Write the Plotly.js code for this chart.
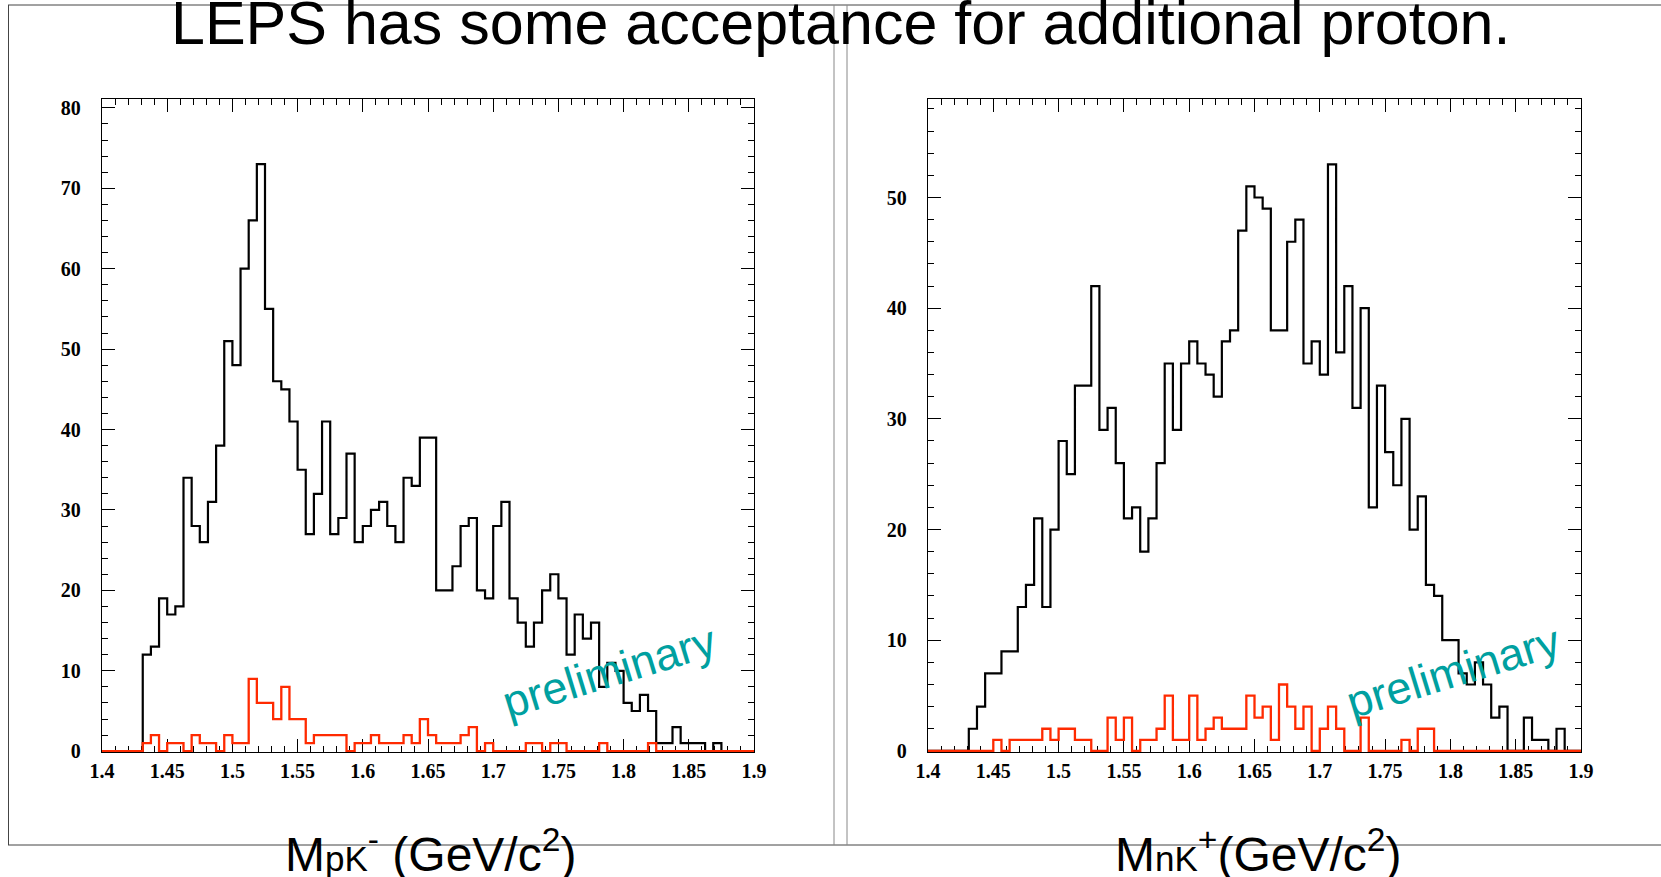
<!DOCTYPE html>
<html>
<head>
<meta charset="utf-8">
<script src="https://cdn.plot.ly/plotly-3.0.1.min.js"></script>
<style>
  html, body { margin: 0; padding: 0; background: #ffffff; }
  #chart { width: 1661px; height: 877px; }
</style>
</head>
<body>
<div id="chart"></div>
<script>
// Histogram binning shared by both panels: 80 bins from 1.4 to 1.9 GeV/c^2
const binLow = 1.4;
const binWidth = 0.00625;

// M(pK-) spectrum: all events (black) and events with an additional proton (red)
const pkAll = [
  0, 0, 0, 0, 0, 12, 13, 19, 17, 18, 34, 28, 26, 31, 38, 51, 48, 60, 66, 73,
  55, 46, 45, 41, 35, 27, 32, 41, 27, 29, 37, 26, 28, 30, 31, 28, 26, 34, 33, 39,
  39, 20, 20, 23, 28, 29, 20, 19, 28, 31, 19, 16, 13, 16, 20, 22, 19, 12, 17, 14,
  16, 8, 11, 10, 6, 5, 7, 5, 1, 1, 3, 1, 1, 1, 0, 1, 0, 0, 0, 0
];
const pkProton = [
  0, 0, 0, 0, 0, 1, 2, 0, 1, 1, 0, 2, 1, 1, 0, 2, 1, 1, 9, 6,
  6, 4, 8, 4, 4, 1, 2, 2, 2, 2, 0, 1, 1, 2, 1, 1, 1, 2, 1, 4,
  2, 1, 1, 1, 2, 3, 0, 1, 0, 0, 0, 0, 1, 1, 0, 1, 1, 0, 0, 0,
  0, 1, 0, 0, 0, 0, 0, 1, 0, 0, 0, 0, 0, 0, 0, 0, 0, 0, 0, 0
];

// M(nK+) spectrum: all events (black) and events with an additional proton (red)
const nkAll = [
  0, 0, 0, 0, 0, 2, 4, 7, 7, 9, 9, 13, 15, 21, 13, 20, 28, 25, 33, 33,
  42, 29, 31, 26, 21, 22, 18, 21, 26, 35, 29, 35, 37, 35, 34, 32, 37, 38, 47, 51,
  50, 49, 38, 38, 46, 48, 35, 37, 34, 53, 36, 42, 31, 40, 22, 33, 27, 24, 30, 20,
  23, 15, 14, 10, 10, 7, 6, 8, 6, 3, 4, 0, 0, 3, 1, 1, 0, 2, 0, 0
];
const nkProton = [
  0, 0, 0, 0, 0, 0, 0, 0, 1, 0, 1, 1, 1, 1, 2, 1, 2, 2, 1, 1,
  0, 0, 3, 1, 3, 0, 1, 1, 2, 5, 1, 1, 5, 1, 2, 3, 2, 2, 2, 5,
  3, 4, 1, 6, 4, 2, 4, 0, 2, 4, 2, 0, 0, 3, 0, 0, 0, 0, 1, 0,
  2, 2, 0, 0, 0, 0, 0, 0, 0, 0, 0, 0, 0, 0, 0, 0, 0, 0, 0, 0
];

// Axis ranges
const xRange = [1.4, 1.9];
const pkYRange = [-0.1, 81.1];
const nkYRange = [-0.1, 58.9];

const W = 1661, H = 877;
const px = v => v / W;           // pixel -> paper x
const py = v => 1 - v / H;       // pixel -> paper y

// Convert bin contents into step-outline coordinates (edges + repeated last value)
function stepTrace(counts, color, width, xa, ya) {
  const xs = [], ys = [];
  for (let i = 0; i <= counts.length; i++) {
    xs.push(+(binLow + i * binWidth).toFixed(6));
    ys.push(i < counts.length ? counts[i] : counts[counts.length - 1]);
  }
  return {
    type: 'scatter', mode: 'lines', x: xs, y: ys,
    xaxis: xa, yaxis: ya,
    line: { shape: 'hv', color: color, width: width },
    hoverinfo: 'skip', showlegend: false
  };
}

const black = '#000000';
const red = '#ff2a00';

const data = [
  stepTrace(pkAll, black, 2.2, 'x', 'y'),
  stepTrace(pkProton, red, 2.3, 'x', 'y'),
  stepTrace(nkAll, black, 2.2, 'x2', 'y2'),
  stepTrace(nkProton, red, 2.3, 'x2', 'y2')
];

const tickFont = { family: 'Liberation Serif, Times New Roman, serif', size: 20, color: '#000', weight: 'bold' };

function xAxis(domain, yName) {
  return {
    domain: domain, range: xRange, anchor: yName,
    tick0: 1.4, dtick: 0.05, ticks: 'inside', ticklen: 13, tickwidth: 1, tickcolor: '#000',
    minor: { dtick: 0.01, ticks: 'inside', ticklen: 6, tickwidth: 1, tickcolor: '#000', showgrid: false },
    showline: true, linecolor: '#000', linewidth: 1.2, mirror: 'allticks',
    showgrid: false, zeroline: false, tickfont: tickFont, layer: 'below traces',
    ticklabelstandoff: 1, fixedrange: true
  };
}
function yAxis(domain, range, xName) {
  return {
    domain: domain, range: range, anchor: xName,
    tick0: 0, dtick: 10, ticks: 'inside', ticklen: 13, tickwidth: 1, tickcolor: '#000',
    minor: { dtick: 2, ticks: 'inside', ticklen: 6, tickwidth: 1, tickcolor: '#000', showgrid: false },
    showline: true, linecolor: '#000', linewidth: 1.2, mirror: 'allticks',
    showgrid: false, zeroline: false, tickfont: tickFont, layer: 'below traces',
    ticklabelstandoff: 16, fixedrange: true
  };
}

const yDomain = [1 - 752 / H, 1 - 99 / H];

const frameLine = { color: '#444', width: 1 };
const dividerLine = { color: '#888', width: 1 };

const layout = {
  width: W, height: H,
  margin: { l: 0, r: 0, t: 0, b: 0, pad: 0 },
  paper_bgcolor: '#ffffff', plot_bgcolor: '#ffffff',
  showlegend: false,
  xaxis: xAxis([px(102), px(754)], 'y'),
  yaxis: yAxis(yDomain, pkYRange, 'x'),
  xaxis2: xAxis([px(928), px(1581)], 'y2'),
  yaxis2: yAxis(yDomain, nkYRange, 'x2'),
  shapes: [
    { type: 'line', xref: 'paper', yref: 'paper', x0: px(8), x1: 1, y0: py(5), y1: py(5), line: frameLine },
    { type: 'line', xref: 'paper', yref: 'paper', x0: px(8), x1: 1, y0: py(845), y1: py(845), line: frameLine },
    { type: 'line', xref: 'paper', yref: 'paper', x0: px(8.5), x1: px(8.5), y0: py(5), y1: py(845), line: frameLine },
    { type: 'line', xref: 'paper', yref: 'paper', x0: px(834), x1: px(834), y0: py(5), y1: py(845), line: dividerLine },
    { type: 'line', xref: 'paper', yref: 'paper', x0: px(847), x1: px(847), y0: py(5), y1: py(845), line: dividerLine }
  ],
  annotations: [
    {
      text: 'LEPS has some acceptance for additional proton.',
      xref: 'paper', yref: 'paper', x: px(840), y: py(23), xanchor: 'center', yanchor: 'middle',
      showarrow: false, font: { family: 'Liberation Sans, Arial, sans-serif', size: 61, color: '#000' }
    },
    {
      text: 'M<span style="font-size:35px">pK</span><sup>-</sup> (GeV/c<sup>2</sup>)',
      xref: 'paper', yref: 'paper', x: px(430), y: py(851), xanchor: 'center', yanchor: 'middle',
      showarrow: false, font: { family: 'Liberation Sans, Arial, sans-serif', size: 48, color: '#000' }
    },
    {
      text: 'M<span style="font-size:35px">nK</span><sup>+</sup>(GeV/c<sup>2</sup>)',
      xref: 'paper', yref: 'paper', x: px(1258), y: py(851), xanchor: 'center', yanchor: 'middle',
      showarrow: false, font: { family: 'Liberation Sans, Arial, sans-serif', size: 48, color: '#000' }
    },
    {
      text: 'preliminary',
      xref: 'paper', yref: 'paper', x: px(609), y: py(671), xanchor: 'center', yanchor: 'middle',
      textangle: -17, showarrow: false,
      font: { family: 'Liberation Sans, Arial, sans-serif', size: 45, color: '#00a0a0' }
    },
    {
      text: 'preliminary',
      xref: 'paper', yref: 'paper', x: px(1453), y: py(671), xanchor: 'center', yanchor: 'middle',
      textangle: -17, showarrow: false,
      font: { family: 'Liberation Sans, Arial, sans-serif', size: 45, color: '#00a0a0' }
    }
  ]
};

Plotly.newPlot('chart', data, layout, { staticPlot: true, displayModeBar: false });
</script>
</body>
</html>
